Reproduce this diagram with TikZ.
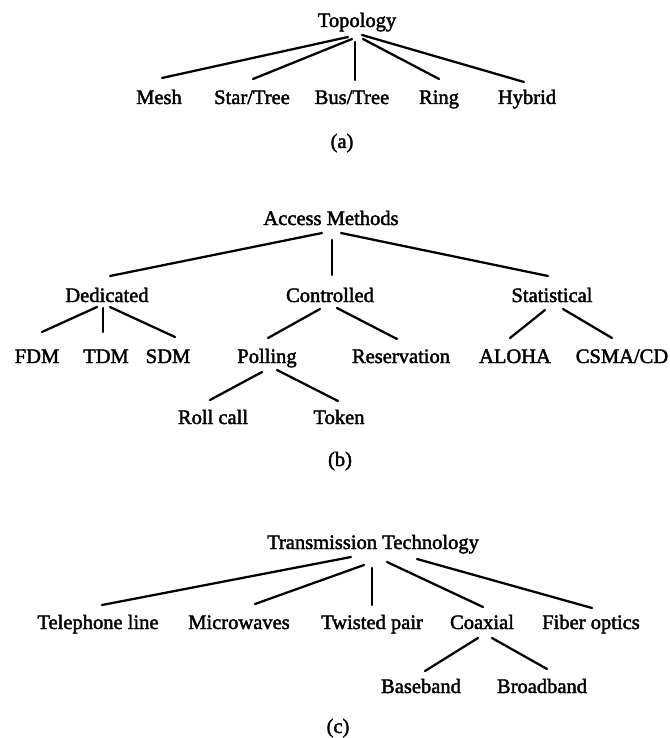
\documentclass[tikz,border=0pt]{standalone}
\usepackage{fontspec}
\setmainfont{Liberation Serif}[FakeBold=2]
\usetikzlibrary{calc}
\tikzset{
  lbl/.style={anchor=base,inner sep=0pt,font=\fontsize{15.4}{18}\selectfont},
  conn/.style={line width=1.7pt,line cap=round}
}
\newcommand\edge[4]{\draw[conn] ($(#1.base)+#2$) -- ($(#3.base)+#4$);}
\begin{document}
\begin{tikzpicture}[x=0.75pt,y=-0.75pt]
\useasboundingbox (0,0) rectangle (670,738);
% (a)
\node[lbl] (topo) at (357,27) {Topology};
\node[lbl] (mesh) at (159,104) {Mesh};
\node[lbl] (star) at (252,104) {Star/Tree};
\node[lbl] (bus) at (352,104) {Bus/Tree};
\node[lbl] (ring) at (439,104) {Ring};
\node[lbl] (hyb) at (527,104) {Hybrid};
\node[lbl] (la) at (342,148) {(a)};
\edge{topo}{(-9,10)}{mesh}{(3,-26)}
\edge{topo}{(-5,12)}{star}{(1,-25)}
\edge{topo}{(-2,15)}{bus}{(3,-24)}
\edge{topo}{(6,12)}{ring}{(0,-25)}
\edge{topo}{(5,8)}{hyb}{(-3,-22)}
% (b)
\node[lbl] (acc) at (331,225) {Access Methods};
\node[lbl] (ded) at (107,302) {Dedicated};
\node[lbl] (ctl) at (330,302) {Controlled};
\node[lbl] (stat) at (552,302) {Statistical};
\node[lbl] (fdm) at (37,363) {FDM};
\node[lbl] (tdm) at (106,363) {TDM};
\node[lbl] (sdm) at (168,363) {SDM};
\node[lbl] (poll) at (267,363) {Polling};
\node[lbl] (res) at (401,363) {Reservation};
\node[lbl] (aloha) at (515,363) {ALOHA};
\node[lbl] (csma) at (622,363) {CSMA/CD};
\node[lbl] (roll) at (213,424) {Roll call};
\node[lbl] (token) at (339,424) {Token};
\node[lbl] (lb) at (340,466) {(b)};
\edge{acc}{(-9,8)}{ded}{(3,-26)}
\edge{acc}{(1,15)}{ctl}{(2,-27)}
\edge{acc}{(10,8)}{stat}{(-4,-26)}
\edge{ded}{(-10,5)}{fdm}{(5,-31)}
\edge{ded}{(-4,6)}{tdm}{(-3,-31)}
\edge{ded}{(3,5)}{sdm}{(7,-26)}
\edge{ctl}{(-10,7)}{poll}{(1,-25)}
\edge{ctl}{(7,6)}{res}{(-4,-24)}
\edge{stat}{(-7,8)}{aloha}{(-5,-25)}
\edge{stat}{(11,7)}{csma}{(-10,-25)}
\edge{poll}{(-5,9)}{roll}{(-3,-24)}
\edge{poll}{(10,7)}{token}{(-1,-23)}
% (c)
\node[lbl] (tt) at (373,549) {Transmission Technology};
\node[lbl] (tel) at (98,629) {Telephone line};
\node[lbl] (mic) at (239,629) {Microwaves};
\node[lbl] (tw) at (372,629) {Twisted pair};
\node[lbl] (coax) at (482,629) {Coaxial};
\node[lbl] (fib) at (591,629) {Fiber optics};
\node[lbl] (baseb) at (421,693) {Baseband};
\node[lbl] (broad) at (542,693) {Broadband};
\node[lbl] (lc) at (338,733) {(c)};
\edge{tt}{(-22,8)}{tel}{(4,-24)}
\edge{tt}{(-9,16)}{mic}{(16,-25)}
\edge{tt}{(-1,19)}{tw}{(0,-24)}
\edge{tt}{(14,13)}{coax}{(1,-22)}
\edge{tt}{(44,10)}{fib}{(1,-21)}
\edge{coax}{(-4,9)}{baseb}{(4,-22)}
\edge{coax}{(10,9)}{broad}{(5,-24)}
\end{tikzpicture}
\end{document}
